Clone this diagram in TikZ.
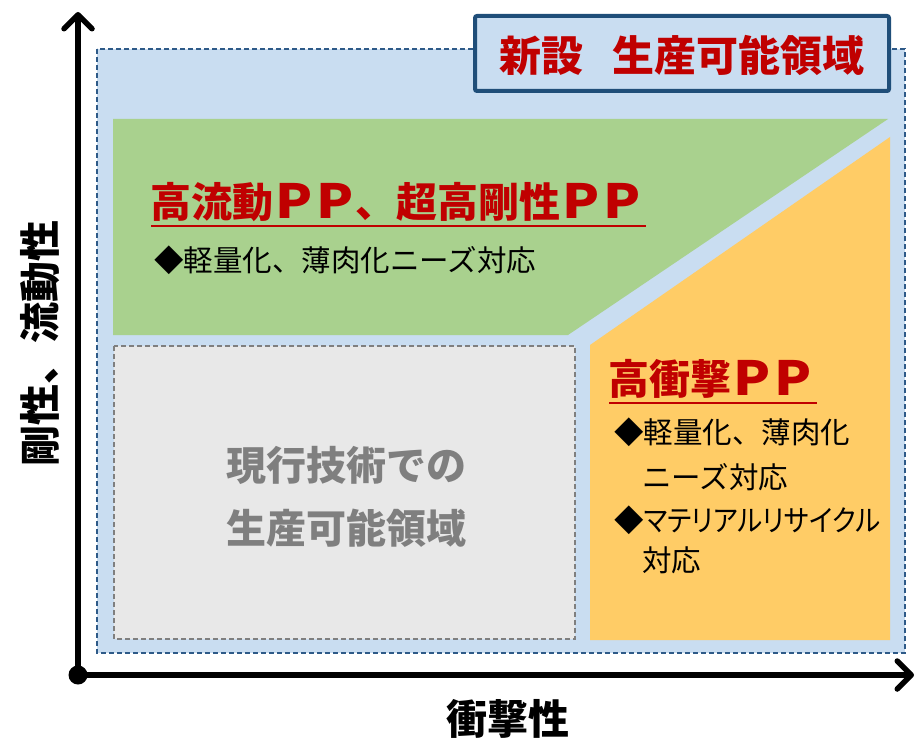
\documentclass[tikz,border=0pt]{standalone}
\usepackage{fontspec}
\newfontfamily\jp{Noto Sans CJK JP}
\newfontfamily\jpp{Noto Sans CJK JP}[RawFeature=+palt]
\usetikzlibrary{arrows.meta}
\definecolor{regblue}{HTML}{C9DDF1}
\definecolor{regedge}{HTML}{2E5A88}
\definecolor{boxedge}{HTML}{1F4E79}
\definecolor{grn}{HTML}{A9D18E}
\definecolor{org}{HTML}{FFCC66}
\definecolor{lgray}{HTML}{E8E8E8}
\definecolor{dgray}{HTML}{7F7F7F}
\definecolor{ttred}{HTML}{C00000}
\newcommand\wideP{\makebox[1em]{\raisebox{-0.02em}{\scalebox{1.32}[1.15]{P}}}}
\tikzset{
  axisline/.style={line width=5.5pt, line cap=round,
    -{Straight Barb[length=14pt, width=28pt, line width=5.5pt, line cap=round, line join=round]}},
  redtitle/.style={text=ttred, font=\jp\bfseries\fontsize{41}{48}\selectfont, inner sep=0pt, anchor=west},
  bodytxt/.style={text=black, font=\jp\fontsize{29.5}{34}\selectfont, inner sep=0pt, anchor=west},
  graytxt/.style={text=dgray, font=\jp\bfseries\fontsize{40}{48}\selectfont, inner sep=0pt},
  axislabel/.style={text=black, font=\jp\bfseries\fontsize{41}{48}\selectfont, inner sep=0pt},
  ulined/.style={ttred, line width=2pt}
}
\begin{document}
\begin{tikzpicture}[x=1pt,y=-1pt]
\useasboundingbox (0,0) rectangle (920,738);
% new production region
\fill[regblue] (97,49) rectangle (905,653);
\draw[regedge, line width=1.6pt, dash pattern=on 5pt off 3pt] (97,49) rectangle (905,653);
% green area
\fill[grn] (113,119) -- (888,119) -- (568,335) -- (113,335) -- cycle;
% orange area
\fill[org] (590,345) -- (890,137) -- (890,640) -- (590,640) -- cycle;
% current region
\fill[lgray] (114,346) rectangle (575,639);
\draw[dgray, line width=1.6pt, dash pattern=on 5pt off 3pt] (114,346) rectangle (575,639);
% title box
\node[draw=boxedge, line width=4pt, fill=regblue, rounded corners=2pt,
      minimum width=414pt, minimum height=75pt, inner sep=0pt] (title) at (682,53.5) {};
\node[text=ttred, font=\jp\bfseries\fontsize{42}{48}\selectfont, inner sep=0pt] (titletext) at (682,55) {新設\hspace{0.7em}生産可能領域};
% green texts
\node[redtitle] (g1) at (150,202) {高流動\wideP\wideP、超高剛性\wideP\wideP};
\draw[ulined] ([xshift=1pt,yshift=-4pt]g1.south west) -- ([xshift=4pt,yshift=-4pt]g1.south east);
\node[bodytxt] (g2) at (154,260.5) {◆軽量化、薄肉化ニーズ対応};
% orange texts
\node[redtitle] (o1) at (608,379) {高衝撃\wideP\wideP};
\draw[ulined] ([xshift=1pt,yshift=-4pt]o1.south west) -- ([xshift=4pt,yshift=-4pt]o1.south east);
\node[bodytxt] (o2) at (614,432) {◆軽量化、薄肉化};
\node[bodytxt] (o3) at (642,477) {ニーズ対応};
\node[bodytxt] (o4) at (614,520) {◆\scalebox{0.9}[1]{\jpp マテリアルリサイクル}};
\node[bodytxt] (o5) at (642,560) {対応};
% gray texts
\node[graytxt] (c1) at (346,465) {現行技術での};
\node[graytxt] (c2) at (346,528) {生産可能領域};
% axes
\coordinate (o) at (78,675);
\coordinate (ytip) at (78,12);
\coordinate (xtip) at (914,675);
\draw[axisline] (o) -- (ytip);
\draw[axisline] (o) -- (xtip);
\fill[black] (o) circle (9.5pt);
\node[axislabel] (xl) at (508,719) {衝撃性};
\node[axislabel, rotate=90] (yl) at (40,343) {剛性、流動性};
\end{tikzpicture}
\end{document}
